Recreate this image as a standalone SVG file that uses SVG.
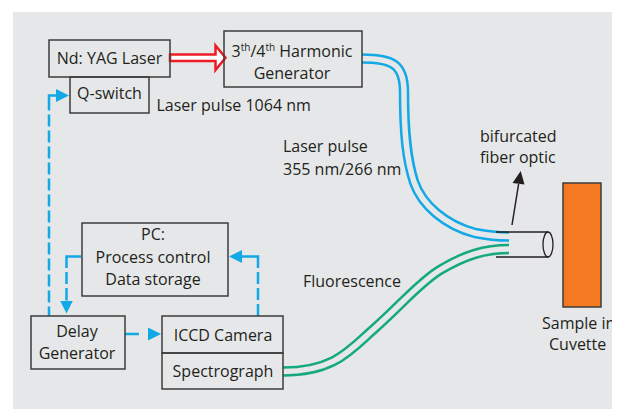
<svg xmlns="http://www.w3.org/2000/svg" width="617" height="409" viewBox="0 0 617 409">
<style>
.box{fill:none;stroke:#3d3d3d;stroke-width:1.5}
.t{font-family:"Open Sans","Liberation Sans",sans-serif;font-size:16px;fill:#231f20}
.m{text-anchor:middle}
.dash{fill:none;stroke:#12a9e6;stroke-width:2.5;marker-end:url(#ah)}
.fo{fill:none;stroke-width:10.5}
.fi{fill:none;stroke:#e6e7e8;stroke-width:5.5}
</style>
<defs>
<marker id="ah" markerUnits="userSpaceOnUse" markerWidth="14" markerHeight="14" refX="0" refY="6.5" orient="auto">
<path d="M0,0 L13,6.5 L0,13 Z" fill="#12a9e6"/>
</marker>
<clipPath id="clipbg"><rect x="13" y="12" width="599" height="397"/></clipPath>
</defs>
<rect x="13" y="12" width="599" height="397" fill="#e6e7e8"/>

<g id="connectors">
<path class="dash" d="M49,316 V95.5 H56" stroke-dasharray="9.5 4 12 4 12 4 12 4 12 4 12 4 12 4 12 4 12 4 12 4 12 4 12 4 12 4 22"/>
<path class="dash" d="M81,256.5 H66.5 V300.5" stroke-dasharray="26 4 12 4 13"/>
<path class="dash" d="M125,334 H148" stroke-dasharray="14 9"/>
<path class="dash" d="M258,316 V256.5 H242" stroke-dasharray="12 4 12 4 12 4 28"/>
<polygon points="170,54.5 215.5,54.5 215.5,45.5 225.5,57.75 215.5,70 215.5,61 170,61" fill="#ffffff" stroke="#ed1c24" stroke-width="2.5" stroke-linejoin="miter"/>
<g id="blue-fiber">
<path class="fo" stroke="#12a9e6" d="M362,58.5 C392,58.5 404,64 404,92 C404,135 407,160 414,182 C422,205 445,225 475,233 C490,236 500,236.5 509,236.5"/>
<path class="fi" d="M362,58.5 C392,58.5 404,64 404,92 C404,135 407,160 414,182 C422,205 445,225 475,233 C490,236 500,236.5 509,236.5"/>
</g>
<g id="green-fiber">
<path class="fo" stroke="#14a97f" d="M283,371.5 C335,371.5 350,350 375,328 C400,306 420,282 440,270 C465,255 485,249 509,249"/>
<path class="fi" d="M283,371.5 C335,371.5 350,350 375,328 C400,306 420,282 440,270 C465,255 485,249 509,249"/>
</g>
<line x1="512" y1="225" x2="518.6" y2="184" stroke="#231f20" stroke-width="1.5"/>
<polygon points="520.7,171 524.5,184.5 512.5,183" fill="#231f20"/>
</g>

<g id="laser">
<rect class="box" x="49" y="40" width="121" height="37"/>
<text class="t m" x="109.5" y="64">Nd: YAG Laser</text>
</g>
<g id="qswitch">
<rect class="box" x="70" y="77" width="79" height="36"/>
<text class="t m" x="109.5" y="99">Q-switch</text>
</g>
<g id="harmonic">
<rect class="box" x="224" y="31" width="138" height="56"/>
<text class="t m" x="292" y="57">3<tspan font-size="10" dy="-6">th</tspan><tspan dy="6">/4</tspan><tspan font-size="10" dy="-6">th</tspan><tspan dy="6"> Harmonic</tspan></text>
<text class="t m" x="292" y="79">Generator</text>
</g>
<g id="pc">
<rect class="box" x="82" y="223" width="146" height="73"/>
<text class="t m" x="153" y="240">PC:</text>
<text class="t m" x="153" y="263">Process control</text>
<text class="t m" x="153" y="285">Data storage</text>
</g>
<g id="delay">
<rect class="box" x="31" y="316" width="94" height="53"/>
<text class="t m" x="77" y="337">Delay</text>
<text class="t m" x="77" y="359">Generator</text>
</g>
<g id="iccd">
<rect class="box" x="162" y="316" width="121" height="37"/>
<text class="t m" x="223" y="341">ICCD Camera</text>
</g>
<g id="spectrograph">
<rect class="box" x="162" y="353" width="121" height="36"/>
<text class="t m" x="223" y="377">Spectrograph</text>
</g>
<g id="fiber-end">
<line x1="496" y1="232" x2="548" y2="232" stroke="#231f20" stroke-width="1.3"/>
<line x1="496" y1="257" x2="548" y2="257" stroke="#231f20" stroke-width="1.3"/>
<ellipse cx="548" cy="244.5" rx="5" ry="12.5" fill="none" stroke="#231f20" stroke-width="1.3"/>
</g>
<g id="sample">
<rect x="563" y="183" width="38" height="124" fill="#f47920" stroke="#3d3d3d" stroke-width="1.5"/>
<g clip-path="url(#clipbg)">
<text class="t" x="542" y="329">Sample in</text>
<text class="t" x="549" y="350">Cuvette</text>
</g>
</g>
<g id="labels">
<text class="t" x="156.5" y="111">Laser pulse 1064 nm</text>
<text class="t" x="283" y="152">Laser pulse</text>
<text class="t" x="283" y="175">355 nm/266 nm</text>
<text class="t" x="480" y="142">bifurcated</text>
<text class="t" x="480" y="163">fiber optic</text>
<text class="t" x="303" y="287">Fluorescence</text>
</g>
</svg>
